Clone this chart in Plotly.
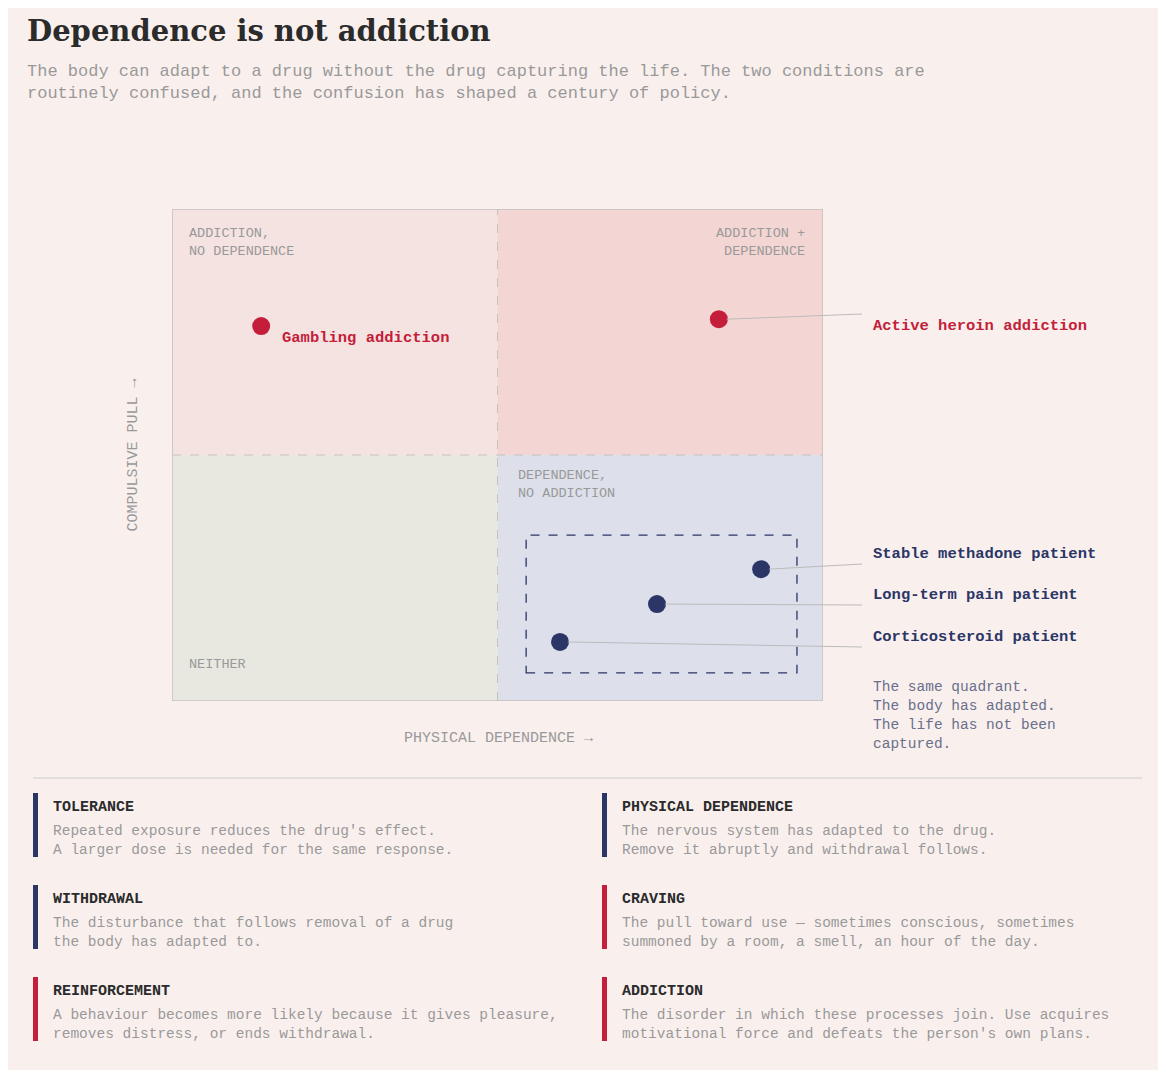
import plotly.graph_objects as go

names = ["Gambling addiction", "Active heroin addiction", "Stable methadone patient",
         "Long-term pain patient", "Corticosteroid patient"]
dep = [13.7, 84.0, 90.5, 74.5, 59.6]
pull = [76.2, 77.6, 26.8, 19.7, 12.0]
kinds = ["add", "add", "dep", "dep", "dep"]

terms = ["TOLERANCE", "PHYSICAL DEPENDENCE", "WITHDRAWAL", "CRAVING", "REINFORCEMENT", "ADDICTION"]
term_desc = [
    "Repeated exposure reduces the drug's effect.<br>A larger dose is needed for the same response.",
    "The nervous system has adapted to the drug.<br>Remove it abruptly and withdrawal follows.",
    "The disturbance that follows removal of a drug<br>the body has adapted to.",
    "The pull toward use — sometimes conscious, sometimes<br>summoned by a room, a smell, an hour of the day.",
    "A behaviour becomes more likely because it gives pleasure,<br>removes distress, or ends withdrawal.",
    "The disorder in which these processes join. Use acquires<br>motivational force and defeats the person's own plans.",
]
term_kind = ["dep", "dep", "dep", "add", "add", "add"]

RED = "#c41e3a"; NAVY = "#2b3566"; GREY = "#999999"; BG = "#f9f0ee"
MONO = "Liberation Mono, Courier New, monospace"
OFF = 8
W, H = 1166 - 2 * OFF, 1078 - 2 * OFF
L, R, T, B = 172, 823, 209, 701

def px(x): return (x - L) / (R - L)
def py(y): return (B - y) / (B - T)

fig = go.Figure()
shapes = [
    dict(type="rect", x0=0, x1=50, y0=50, y1=100, fillcolor="#f5e3e1", line_width=0, layer="below"),
    dict(type="rect", x0=50, x1=100, y0=50, y1=100, fillcolor="#f3d6d3", line_width=0, layer="below"),
    dict(type="rect", x0=0, x1=50, y0=0, y1=50, fillcolor="#e8e8e1", line_width=0, layer="below"),
    dict(type="rect", x0=50, x1=100, y0=0, y1=50, fillcolor="#dde0ea", line_width=0, layer="below"),
    dict(type="line", x0=50, x1=50, y0=0, y1=100, line=dict(color="#c8c0bc", width=1, dash="dash")),
    dict(type="line", x0=0, x1=100, y0=50, y1=50, line=dict(color="#c8c0bc", width=1, dash="dash")),
    dict(type="rect", x0=0, x1=100, y0=0, y1=100, line=dict(color="#c4c0c0", width=1.5)),
    dict(type="rect", x0=54.4, x1=96, y0=5.7, y1=33.7, line=dict(color=NAVY, width=1.3, dash="dash")),
    dict(type="line", xref="paper", yref="paper", x0=px(33), x1=px(1142), y0=py(778), y1=py(778),
         line=dict(color="#cccccc", width=1)),
]
for i in range(1, 5):
    shapes.append(dict(type="line", xref="paper", yref="paper",
                       x0=dep[i] / 100 + 0.012, x1=px(862),
                       y0=pull[i] / 100, y1=py([314, 564, 605, 647][i - 1]),
                       line=dict(color="#bbbbbb", width=1)))

fig.add_trace(go.Scatter(x=dep, y=pull, mode="markers", hoverinfo="text", text=names,
                         marker=dict(size=18, color=[RED if k == "add" else NAVY for k in kinds]),
                         showlegend=False, cliponaxis=False))

LBL = 15.5
ann = []
ann.append(dict(x=px(280), y=py(327), xref="paper", yref="paper", text="<b>Gambling addiction</b>",
                showarrow=False, xanchor="left", font=dict(family=MONO, size=LBL, color=RED)))
for i, yy in zip(range(1, 5), [315, 565, 606, 648]):
    ann.append(dict(x=px(871), y=py(yy), xref="paper", yref="paper", text="<b>%s</b>" % names[i],
                    showarrow=False, xanchor="left",
                    font=dict(family=MONO, size=LBL, color=RED if kinds[i] == "add" else NAVY)))
ann.append(dict(x=px(871), y=py(677), xref="paper", yref="paper", yanchor="top", xanchor="left", align="left",
                text="The same quadrant.<br>The body has adapted.<br>The life has not been<br>captured.",
                showarrow=False, font=dict(family=MONO, size=14.5, color="#6a6f8a")))
qf = dict(family=MONO, size=13.5, color=GREY)
ann += [
    dict(x=px(187), y=py(224), text="ADDICTION,<br>NO DEPENDENCE", xanchor="left", align="left"),
    dict(x=px(807), y=py(224), text="ADDICTION +<br>DEPENDENCE", xanchor="right", align="right"),
    dict(x=px(516), y=py(466), text="DEPENDENCE,<br>NO ADDICTION", xanchor="left", align="left"),
    dict(x=px(187), y=py(655), text="NEITHER", xanchor="left", align="left"),
]
for a in ann[-4:]:
    a.update(xref="paper", yref="paper", yanchor="top", showarrow=False, font=qf)
ann.append(dict(x=px(498), y=py(749), xref="paper", yref="paper", text="PHYSICAL DEPENDENCE →",
                showarrow=False, font=dict(family=MONO, size=15, color=GREY)))
ann.append(dict(x=px(122), y=0.5, xref="paper", yref="paper", text="COMPULSIVE PULL →", textangle=-90,
                showarrow=False, font=dict(family=MONO, size=15, color=GREY)))
ann.append(dict(x=px(33 - OFF), y=py(20 - OFF), xref="paper", yref="paper", xanchor="left", yanchor="top",
                text="<b>Dependence is not addiction</b>", showarrow=False,
                font=dict(family="DejaVu Serif, Georgia, serif", size=29, color="#2b2b2b")))
ann.append(dict(x=px(33 - OFF), y=py(68 - OFF), xref="paper", yref="paper", xanchor="left", yanchor="top", align="left",
                text="The body can adapt to a drug without the drug capturing the life. The two conditions are<br>routinely confused, and the confusion has shaped a century of policy.",
                showarrow=False, font=dict(family=MONO, size=17, color=GREY)))

for j, (t, d, k) in enumerate(zip(terms, term_desc, term_kind)):
    col = j % 2; row = j // 2
    x0 = 33 if col == 0 else 602
    y0 = 793 + row * 92
    shapes.append(dict(type="rect", xref="paper", yref="paper", x0=px(x0), x1=px(x0 + 5),
                       y0=py(y0), y1=py(y0 + 64), fillcolor=RED if k == "add" else NAVY, line_width=0))
    ann.append(dict(x=px(x0 + 18), y=py(y0 + 4), xref="paper", yref="paper", xanchor="left", yanchor="top",
                    text="<b>%s</b>" % t, showarrow=False, font=dict(family=MONO, size=15, color="#2b2b2b")))
    ann.append(dict(x=px(x0 + 18), y=py(y0 + 28), xref="paper", yref="paper", xanchor="left", yanchor="top",
                    align="left", text=d, showarrow=False, font=dict(family=MONO, size=14.5, color=GREY)))

# shift all paper coords for the 8px page offset
for s in shapes:
    if s.get("xref") == "paper":
        pass
fig.update_layout(width=W, height=H, margin=dict(l=L - OFF, r=1166 - R - OFF, t=T - OFF, b=1078 - B - OFF),
                  paper_bgcolor=BG, plot_bgcolor=BG, shapes=shapes, annotations=ann,
                  xaxis=dict(range=[0, 100], visible=False, fixedrange=True),
                  yaxis=dict(range=[0, 100], visible=False, fixedrange=True))
fig.write_html("out.html")
